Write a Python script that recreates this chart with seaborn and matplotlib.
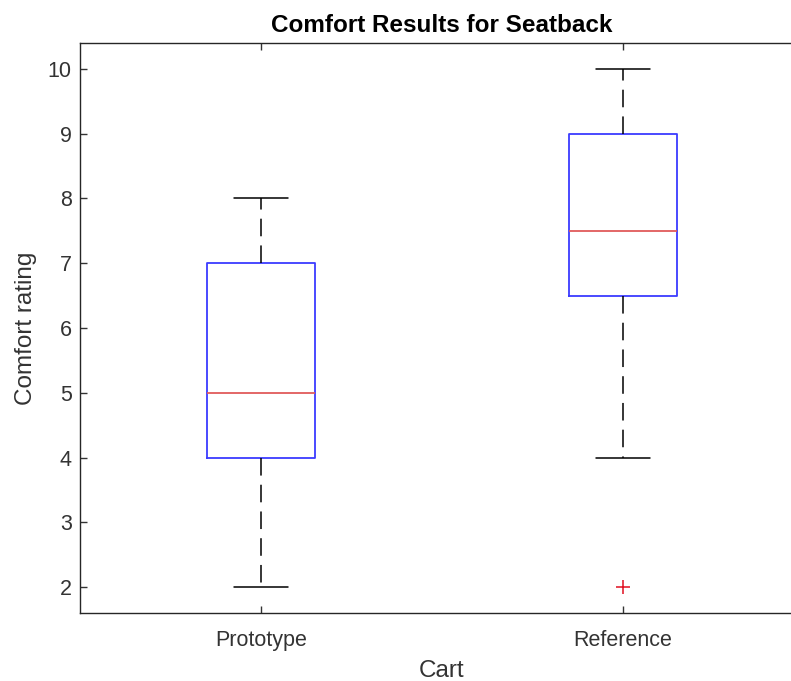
import pandas as pd
import matplotlib.pyplot as plt
import seaborn as sns

# Comfort ratings per cart (values chosen to reproduce the box statistics)
prototype = [2, 4, 5, 7, 8]
reference = [2, 4, 6.5, 7, 7.5, 8, 9, 9.5, 10]
carts = ['Prototype', 'Reference']
y_ticks = [2, 3, 4, 5, 6, 7, 8, 9, 10]

df = pd.DataFrame({
    'cart': [carts[0]] * len(prototype) + [carts[1]] * len(reference),
    'rating': prototype + reference,
})

sns.set_theme(style="white")
plt.rcParams['font.family'] = ['Liberation Sans', 'DejaVu Sans']
text_col = '#333333'

fig = plt.figure(figsize=(7.91, 6.81), dpi=100)
ax = fig.add_axes([80 / 791, 68 / 681, 724 / 791, 570 / 681])

sns.boxplot(
    data=df, x='cart', y='rating', order=carts, ax=ax,
    width=0.3, fill=False, linewidth=1.2, linecolor='#3c3cff',
    whis=1.5,
    boxprops={'color': '#3c3cff', 'linewidth': 1.3},
    medianprops={'color': '#e05a5a', 'linewidth': 1.3},
    whiskerprops={'color': 'black', 'linestyle': (0, (11.5, 6)), 'linewidth': 1.1},
    capprops={'color': 'black', 'linewidth': 1.1},
    flierprops={'marker': '+', 'markeredgecolor': '#e01020', 'markersize': 10,
                'markeredgewidth': 1.1},
)

ax.set_ylim(1.6, 10.4)
ax.set_xlim(-0.5, 1.5)
ax.set_yticks(y_ticks)
ax.set_yticklabels([str(t) for t in y_ticks])

ax.tick_params(direction='in', length=5, width=1, colors=text_col,
               labelsize=15.5, top=True, right=True, bottom=True, left=True)
ax.tick_params(axis='x', pad=12.5)
ax.tick_params(axis='y', pad=6)
for sp in ax.spines.values():
    sp.set_visible(True)
    sp.set_color('#262626')
    sp.set_linewidth(1.0)

ax.set_title('Comfort Results for Seatback', fontsize=17.5, fontweight='bold',
             color='black', pad=8)
ax.set_xlabel('Cart', fontsize=17.5, color=text_col, labelpad=6)
ax.set_ylabel('Comfort rating', fontsize=17.5, color=text_col, labelpad=8)

fig.savefig('out.png', dpi=100)
